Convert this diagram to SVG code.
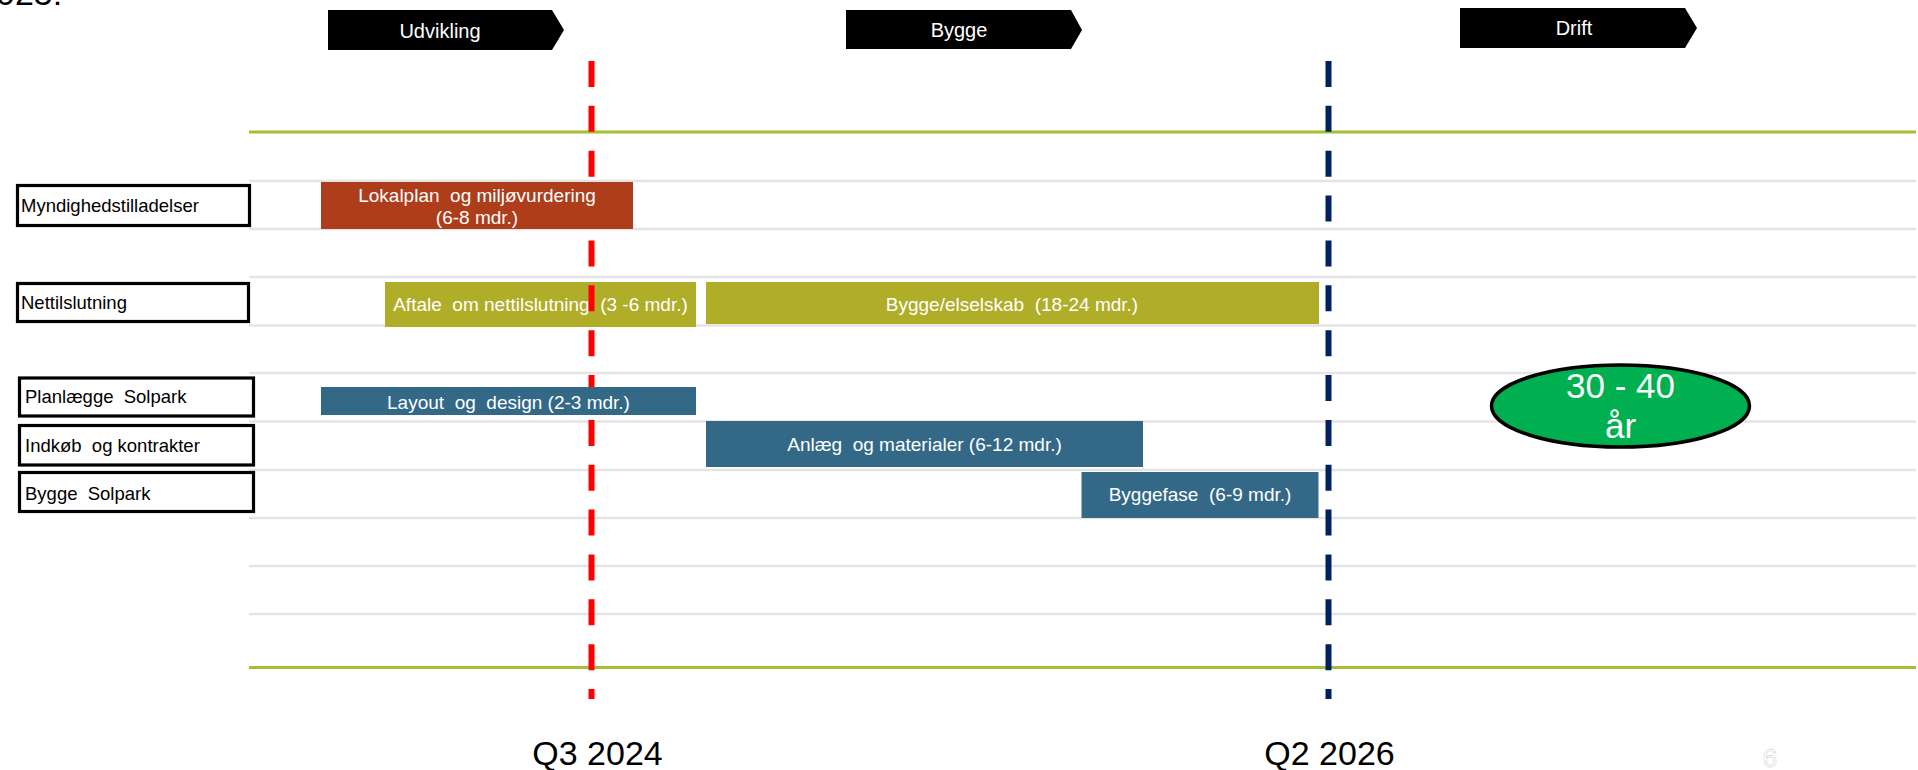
<svg xmlns="http://www.w3.org/2000/svg" width="1918" height="770" viewBox="0 0 1918 770" xml:space="preserve">
<style>
text{font-family:"Liberation Sans",Arial,sans-serif;white-space:pre}
.grid{stroke:#E4E4E4;stroke-width:2.5}
.green{stroke:#A6BF30;stroke-width:3}
.phase{fill:#000}
.phaseT{fill:#fff;font-size:20px;text-anchor:middle}
.lbl{fill:#fff;stroke:#000;stroke-width:3.2}
.lblT{fill:#000;font-size:18.5px}
.bar{stroke:none}
.barT{fill:#fff;font-size:19px;text-anchor:middle}
.rust{fill:#AD3D1B}
.olive{fill:#B0AD28}
.blue{fill:#336987}
.ms{stroke-width:6;stroke-dasharray:26 18.86;fill:none}
.qT{fill:#000;font-size:34px;text-anchor:middle}
</style>
<rect x="0" y="0" width="1918" height="770" fill="#fff"/>
<text x="-4" y="5" style="font-size:34px" fill="#000">025:</text>

<g id="gridlines">
<line class="grid" x1="249" y1="181" x2="1916" y2="181"/>
<line class="grid" x1="249" y1="229" x2="1916" y2="229"/>
<line class="grid" x1="249" y1="277" x2="1916" y2="277"/>
<line class="grid" x1="249" y1="325.5" x2="1916" y2="325.5"/>
<line class="grid" x1="249" y1="373" x2="1916" y2="373"/>
<line class="grid" x1="249" y1="421.5" x2="1916" y2="421.5"/>
<line class="grid" x1="249" y1="470" x2="1916" y2="470"/>
<line class="grid" x1="249" y1="518" x2="1916" y2="518"/>
<line class="grid" x1="249" y1="566" x2="1916" y2="566"/>
<line class="grid" x1="249" y1="614" x2="1916" y2="614"/>
<line class="green" x1="249" y1="132" x2="1916" y2="132"/>
<line class="green" x1="249" y1="667.5" x2="1916" y2="667.5"/>
</g>

<g id="phase-udvikling">
<polygon class="phase" points="328,10 552,10 564,30 552,50 328,50"/>
<text class="phaseT" x="440" y="38">Udvikling</text>
</g>
<g id="phase-bygge">
<polygon class="phase" points="846,10 1071,10 1082,30 1071,49 846,49"/>
<text class="phaseT" x="959" y="37">Bygge</text>
</g>
<g id="phase-drift">
<polygon class="phase" points="1460,8 1685,8 1697,28 1685,48 1460,48"/>
<text class="phaseT" x="1574" y="35">Drift</text>
</g>

<g id="label-myndighed">
<rect class="lbl" x="17.5" y="185.5" width="232" height="40"/>
<text class="lblT" x="21" y="212">Myndighedstilladelser</text>
</g>
<g id="label-nettilslutning">
<rect class="lbl" x="17.5" y="283.5" width="231" height="38"/>
<text class="lblT" x="21" y="309">Nettilslutning</text>
</g>
<g id="label-planlaegge">
<rect class="lbl" x="19.5" y="378" width="234" height="38"/>
<text class="lblT" x="25" y="403">Planlægge  Solpark</text>
</g>
<g id="label-indkob">
<rect class="lbl" x="19.5" y="425.5" width="234" height="39.5"/>
<text class="lblT" x="25" y="452">Indkøb  og kontrakter</text>
</g>
<g id="label-byggesolpark">
<rect class="lbl" x="19.5" y="472.5" width="234" height="39"/>
<text class="lblT" x="25" y="500">Bygge  Solpark</text>
</g>

<g id="bar-aftale">
<rect class="bar olive" x="385" y="282" width="311" height="45"/>
<text class="barT" x="540.5" y="311">Aftale  om nettilslutning  (3 -6 mdr.)</text>
</g>

<g id="connectors">
<line class="ms" stroke="#FF0000" x1="591.5" y1="61" x2="591.5" y2="699"/>
<line class="ms" stroke="#002060" x1="1328.5" y1="61" x2="1328.5" y2="699"/>
</g>

<g id="bar-lokalplan">
<rect class="bar rust" x="321" y="182" width="312" height="47"/>
<text class="barT" x="477" y="202">Lokalplan  og miljøvurdering</text>
<text class="barT" x="477" y="224">(6-8 mdr.)</text>
</g>
<g id="bar-bygge-elselskab">
<rect class="bar olive" x="706" y="282" width="613" height="42"/>
<text class="barT" x="1012" y="311">Bygge/elselskab  (18-24 mdr.)</text>
</g>
<g id="bar-layout">
<rect class="bar blue" x="321" y="387" width="375" height="28"/>
<text class="barT" x="508.5" y="409">Layout  og  design (2-3 mdr.)</text>
</g>
<g id="bar-anlaeg">
<rect class="bar blue" x="706" y="421" width="437" height="46"/>
<text class="barT" x="924.5" y="451">Anlæg  og materialer (6-12 mdr.)</text>
</g>
<g id="bar-byggefase">
<rect class="bar blue" x="1081.5" y="472" width="237" height="46"/>
<text class="barT" x="1200" y="501">Byggefase  (6-9 mdr.)</text>
</g>

<g id="drift-ellipse">
<ellipse cx="1620.5" cy="406" rx="129" ry="41" fill="#00B050" stroke="#000" stroke-width="3.5"/>
<text x="1620.5" y="398" style="font-size:35px;text-anchor:middle" fill="#fff">30 - 40</text>
<text x="1620.5" y="438" style="font-size:35px;text-anchor:middle" fill="#fff">år</text>
</g>

<g id="milestone-labels">
<text class="qT" x="597.5" y="765">Q3 2024</text>
<text class="qT" x="1329.5" y="765">Q2 2026</text>
</g>
<text x="1770" y="767" style="font-size:26px;text-anchor:middle" fill="#fff" stroke="#C4C4C4" stroke-width="0.45">6</text>
</svg>
